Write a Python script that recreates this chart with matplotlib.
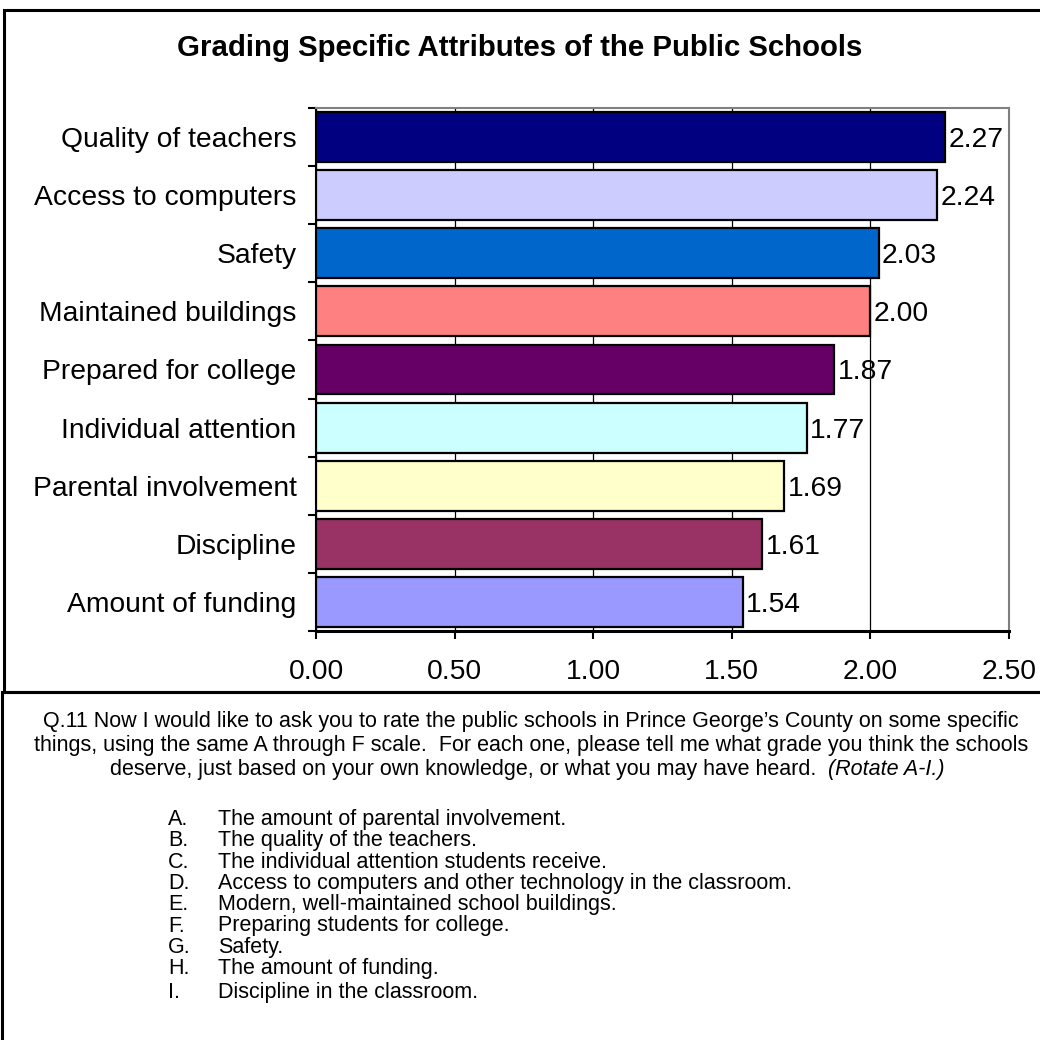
import matplotlib.pyplot as plt
import numpy as np
from matplotlib.patches import Rectangle
from matplotlib.ticker import FixedLocator, FormatStrFormatter

plt.rcParams["font.family"] = ["Liberation Sans", "DejaVu Sans"]

attributes = [
    "Quality of teachers",
    "Access to computers",
    "Safety",
    "Maintained buildings",
    "Prepared for college",
    "Individual attention",
    "Parental involvement",
    "Discipline",
    "Amount of funding",
]
grades = [2.27, 2.24, 2.03, 2.00, 1.87, 1.77, 1.69, 1.61, 1.54]
bar_colors = ["#000080", "#CCCCFF", "#0066CC", "#FF8080", "#660066",
              "#CCFFFF", "#FFFFCC", "#993366", "#9999FF"]
x_ticks = [0.0, 0.5, 1.0, 1.5, 2.0, 2.5]

question = [
    "Q.11 Now I would like to ask you to rate the public schools in Prince George\u2019s County on some specific",
    "things, using the same A through F scale.  For each one, please tell me what grade you think the schools",
]
question_last = "deserve, just based on your own knowledge, or what you may have heard.  "
question_note = "(Rotate A-I.)"
item_letters = ["A.", "B.", "C.", "D.", "E.", "F.", "G.", "H.", "I."]
item_texts = [
    "The amount of parental involvement.",
    "The quality of the teachers.",
    "The individual attention students receive.",
    "Access to computers and other technology in the classroom.",
    "Modern, well-maintained school buildings.",
    "Preparing students for college.",
    "Safety.",
    "The amount of funding.",
    "Discipline in the classroom.",
]

W = H = 1040
fig = plt.figure(figsize=(W / 100, H / 100), dpi=100)
fig.patch.set_facecolor("white")


def fx(px):
    return px / W


def fy(py):
    return 1 - py / H


# frames around chart and question block
fig.patches.append(Rectangle((fx(4), fy(692)), fx(1040), fy(10) - fy(692),
                             transform=fig.transFigure, fill=False,
                             edgecolor="black", lw=2.2))
fig.patches.append(Rectangle((fx(2), fy(1045)), fx(1040), fy(692) - fy(1045),
                             transform=fig.transFigure, fill=False,
                             edgecolor="black", lw=2.2))

fig.text(fx(520), fy(48), "Grading Specific Attributes of the Public Schools",
         ha="center", va="center", fontsize=21.2, fontweight="bold")

ax = fig.add_axes([fx(316), fy(631), fx(1009) - fx(316), fy(108) - fy(631)])
ypos = np.arange(len(attributes))
ax.barh(ypos, grades, height=0.86, color=bar_colors, edgecolor="black",
        linewidth=1.6, zorder=3)
for y, v in zip(ypos, grades):
    ax.text(v + 0.012, y + 0.05, f"{v:.2f}", ha="left", va="center",
            fontsize=20.3, zorder=4)

ax.set_xlim(0, 2.5)
ax.set_ylim(len(attributes) - 0.5, -0.5)
ax.xaxis.set_major_locator(FixedLocator(x_ticks))
ax.xaxis.set_major_formatter(FormatStrFormatter("%.2f"))
ax.grid(axis="x", color="black", lw=0.9, zorder=0)
ax.tick_params(axis="x", direction="out", length=6, width=1.5,
               labelsize=20.3, pad=14)

ax.set_yticks(ypos)
ax.set_yticklabels(attributes)
ax.set_yticks(np.arange(-0.5, len(attributes)), minor=True)
ax.tick_params(axis="y", which="major", length=0, labelsize=20.3, pad=14)
ax.tick_params(axis="y", which="minor", direction="out", length=6, width=1.5)

for side in ("top", "right"):
    ax.spines[side].set_color("#808080")
    ax.spines[side].set_linewidth(1.5)
ax.spines["left"].set_linewidth(1.5)
ax.spines["bottom"].set_linewidth(2.2)

# question wording below the chart
for i, line in enumerate(question):
    fig.text(fx(531), fy(722 + 24 * i), line, ha="center", va="center",
             fontsize=15.5)
t = fig.text(fx(110), fy(770), question_last, ha="left", va="center",
             fontsize=15.5)
fig.canvas.draw()
bb = t.get_window_extent()
fig.text(bb.x1 / W, fy(770), question_note, ha="left", va="center",
         fontsize=15.5, style="italic")

# lettered items, one per line
for i, (letter, text) in enumerate(zip(item_letters, item_texts)):
    y = 825 + 21.3 * i + (3 if i == len(item_letters) - 1 else 0)
    fig.text(fx(168), fy(y), letter, ha="left", va="baseline", fontsize=15.5)
    fig.text(fx(218), fy(y), text, ha="left", va="baseline", fontsize=15.5)

fig.savefig("out.png", dpi=100)
